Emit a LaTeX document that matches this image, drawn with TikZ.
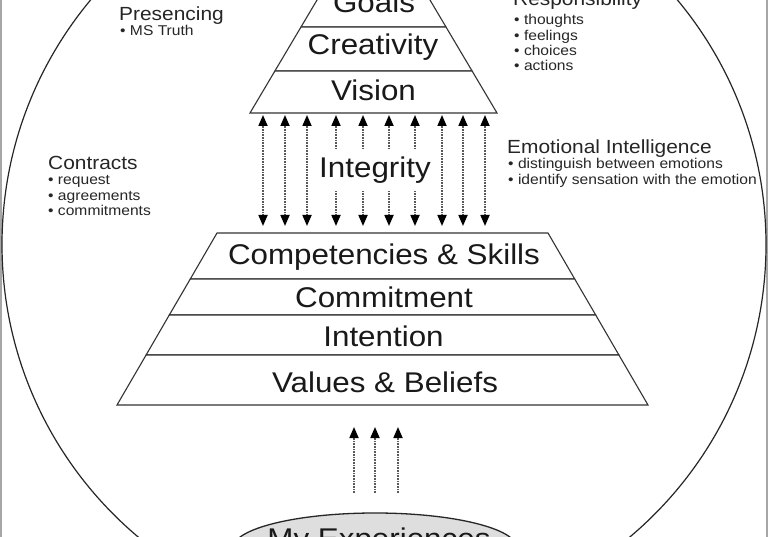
\documentclass[tikz,border=0pt]{standalone}
\usepackage{fontspec}
\setmainfont{Liberation Sans}[FakeStretch=1.1]
\usetikzlibrary{arrows.meta,shapes.geometric}
\tikzset{
  layer/.style={draw=black!80, line width=1.1pt, fill=white},
  big/.style={font=\fontsize{28.5}{30}\selectfont, text=black!90, inner sep=0pt},
  ttl/.style={font=\fontsize{19}{20}\selectfont, anchor=base west, inner sep=0pt, text=black!85},
  itm/.style={font=\fontsize{14.2}{15}\selectfont, anchor=base west, inner sep=0pt, text=black!85},
  tipx/.tip={Triangle[length=11pt,width=9pt,color=black]},
  darr/.style={line width=1.7pt, draw=black!65, dash pattern=on 0.9pt off 0.7pt, tipx-tipx},
  uarr/.style={line width=1.7pt, draw=black!65, dash pattern=on 0.9pt off 0.7pt, -tipx},
}
\begin{document}
\begin{tikzpicture}[x=1pt,y=-1pt]
\useasboundingbox (0,0) rectangle (768,537);
\clip (0,0) rectangle (768,537);
\fill[white] (0,0) rectangle (768,537);
% frame edges
\draw[gray!70, line width=1.5pt] (1,-5) -- (1,545);
\draw[gray!70, line width=1.5pt] (767,-5) -- (767,545);
% big circle
\draw[black!85, line width=1.2pt] (384,244.6) circle[radius=382];

% top pyramid
\draw[layer] (320,-5) -- (427,-5) -- (446,27) -- (301,27) -- cycle;
\draw[layer] (301,27) -- (446,27) -- (472.1,71) -- (274.9,71) -- cycle;
\draw[layer] (274.9,71) -- (472.1,71) -- (497,113) -- (250,113) -- cycle;
\node[big, anchor=base] (goals) at (374,12.7) {Goals};
\node[big, anchor=base] (creat) at (373,54.5) {Creativity};
\node[big, anchor=base] (vision) at (373.5,100.7) {Vision};

% bottom pyramid
\draw[layer] (217,233) -- (548,233) -- (574.7,279) -- (190.3,279) -- cycle;
\draw[layer] (190.3,279) -- (574.7,279) -- (595.7,315) -- (169.3,315) -- cycle;
\draw[layer] (169.3,315) -- (595.7,315) -- (618.9,355) -- (146.1,355) -- cycle;
\draw[layer] (146.1,355) -- (618.9,355) -- (648,405) -- (117,405) -- cycle;
\node[big, anchor=base] (comp) at (384,265) {Competencies \& Skills};
\node[big, anchor=base] (commit) at (384,308) {Commitment};
\node[big, anchor=base] (intent) at (383.5,346) {Intention};
\node[big, anchor=base] (values) at (385,392.7) {Values \& Beliefs};

% integrity arrows
\foreach \x in {263,285,307,336,363,389,415,442,463,485}
  \draw[darr] (\x,115) -- (\x,226);
\node[big, anchor=base, fill=white, inner xsep=4pt, inner ysep=7pt] (integ) at (375,178) {Integrity};

% experiences
\node[ellipse, draw=black!85, line width=1.3pt, fill=black!13, minimum width=284pt, minimum height=70pt] (exp) at (375,548) {};
\node[big, anchor=base] (exptext) at (379,548.5) {My Experiences};
\foreach \x in {354,375,398}
  \draw[uarr] (\x,493) -- (\x,427);

% side texts
\node[ttl] (pres) at (119,21) {Presencing};
\node[itm] (pres1) at (120,36) {• MS Truth};

\node[ttl] (contr) at (48,170) {Contracts};
\node[itm] (contr1) at (48,185) {• request};
\node[itm] (contr2) at (48,200.5) {• agreements};
\node[itm] (contr3) at (48,216) {• commitments};

\node[ttl] (resp) at (513,6) {Responsibility};
\node[itm] (resp1) at (514,25) {• thoughts};
\node[itm] (resp2) at (514,40.3) {• feelings};
\node[itm] (resp3) at (514,55.6) {• choices};
\node[itm] (resp4) at (514,71) {• actions};

\node[ttl] (emo) at (507,154) {Emotional Intelligence};
\node[itm] (emo1) at (508,169) {• distinguish between emotions};
\node[itm] (emo2) at (508,184.5) {• identify sensation with the emotion};
\end{tikzpicture}
\end{document}
